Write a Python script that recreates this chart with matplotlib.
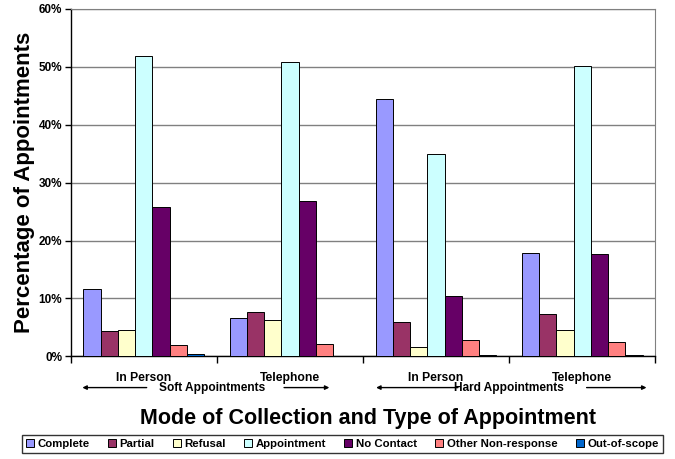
import matplotlib.pyplot as plt
import numpy as np

plt.rcParams['font.family'] = ['Liberation Sans', 'DejaVu Sans']
plt.rcParams['font.weight'] = 'bold'

# Appointment outcome shares (%) by mode of collection
modes = ["In Person", "Telephone", "In Person", "Telephone"]
outcomes = ["Complete", "Partial", "Refusal", "Appointment",
            "No Contact", "Other Non-response", "Out-of-scope"]
complete = [11.6, 6.6, 44.5, 17.9]
partial = [4.3, 7.7, 6.0, 7.3]
refusal = [4.6, 6.3, 1.6, 4.6]
appointment = [51.8, 50.8, 35.0, 50.2]
no_contact = [25.8, 26.9, 10.4, 17.7]
other_nonresponse = [1.9, 2.1, 2.8, 2.4]
out_of_scope = [0.4, 0.0, 0.2, 0.3]
colors = ["#9999FF", "#993366", "#FFFFCC", "#CCFFFF",
          "#660066", "#FF8080", "#0066CC"]

series = [complete, partial, refusal, appointment,
          no_contact, other_nonresponse, out_of_scope]

fig = plt.figure(figsize=(6.75, 4.59), dpi=100)
ax = fig.add_axes([0.1047, 0.2237, 0.8661, 0.7567])

x = np.arange(len(modes))
width = 0.118
for i, (vals, name, col) in enumerate(zip(series, outcomes, colors)):
    ax.bar(x + (i - 3) * width, vals, width, color=col, edgecolor='black',
           linewidth=0.7, label=name, zorder=3)

ax.set_xlim(-0.5, 3.5)
ax.set_ylim(0, 60)
ax.set_yticks(range(0, 61, 10))
ax.set_yticklabels([f"{v}%" for v in range(0, 61, 10)], fontsize=8.5, fontweight='bold')
ax.yaxis.grid(True, color='#808080', linewidth=1, zorder=0)
ax.tick_params(axis='y', direction='out', length=4, width=1, pad=2)

# group boundaries as long ticks, mode names at group centres
ax.set_xticks(np.arange(-0.5, 4, 1.0))
ax.set_xticklabels([])
ax.tick_params(axis='x', which='major', direction='out', length=5, width=1)
ax.set_xticks(x, minor=True)
ax.set_xticklabels(modes, minor=True, fontsize=8.7, fontweight='bold')
ax.tick_params(axis='x', which='minor', length=0, pad=11)

for side in ['top', 'right']:
    ax.spines[side].set_color('#808080')
for side in ['left', 'bottom']:
    ax.spines[side].set_color('black')
    ax.spines[side].set_linewidth(1)

# appointment-type captions with arrows
trans = ax.get_xaxis_transform()
ya = -0.09
for cx, name, l_head, l_tail, r_tail, r_head in [
        (0.47, "Soft Appointments", -0.42, 0.02, 0.96, 1.27),
        (2.5, "Hard Appointments", 1.59, 2.15, 3.03, 3.44)]:
    ax.text(cx, ya, name, transform=trans, ha='center', va='center',
            fontsize=8.6, fontweight='bold')
    for tail, head in [(l_tail, l_head), (r_tail, r_head)]:
        ax.annotate('', xy=(head, ya), xytext=(tail, ya), xycoords=trans,
                    textcoords=trans, annotation_clip=False,
                    arrowprops=dict(arrowstyle='-|>', color='black', lw=1,
                                    mutation_scale=6, shrinkA=0, shrinkB=0))

fig.text(0.037, 0.603, "Percentage of Appointments", rotation=90,
         ha='center', va='center', fontsize=16, fontweight='bold')
fig.text(0.545, 0.089, "Mode of Collection and Type of Appointment",
         ha='center', va='center', fontsize=15.5, fontweight='bold')

leg = fig.legend(loc='center', bbox_to_anchor=(0.507, 0.033), ncol=7,
                 fontsize=8.2, frameon=True, fancybox=False, edgecolor='black',
                 handlelength=0.7, handleheight=0.7, handletextpad=0.3,
                 columnspacing=1.62, borderpad=0.35)
leg.get_frame().set_linewidth(1)
for t in leg.get_texts():
    t.set_fontweight('bold')

fig.savefig("out.png", dpi=100)
